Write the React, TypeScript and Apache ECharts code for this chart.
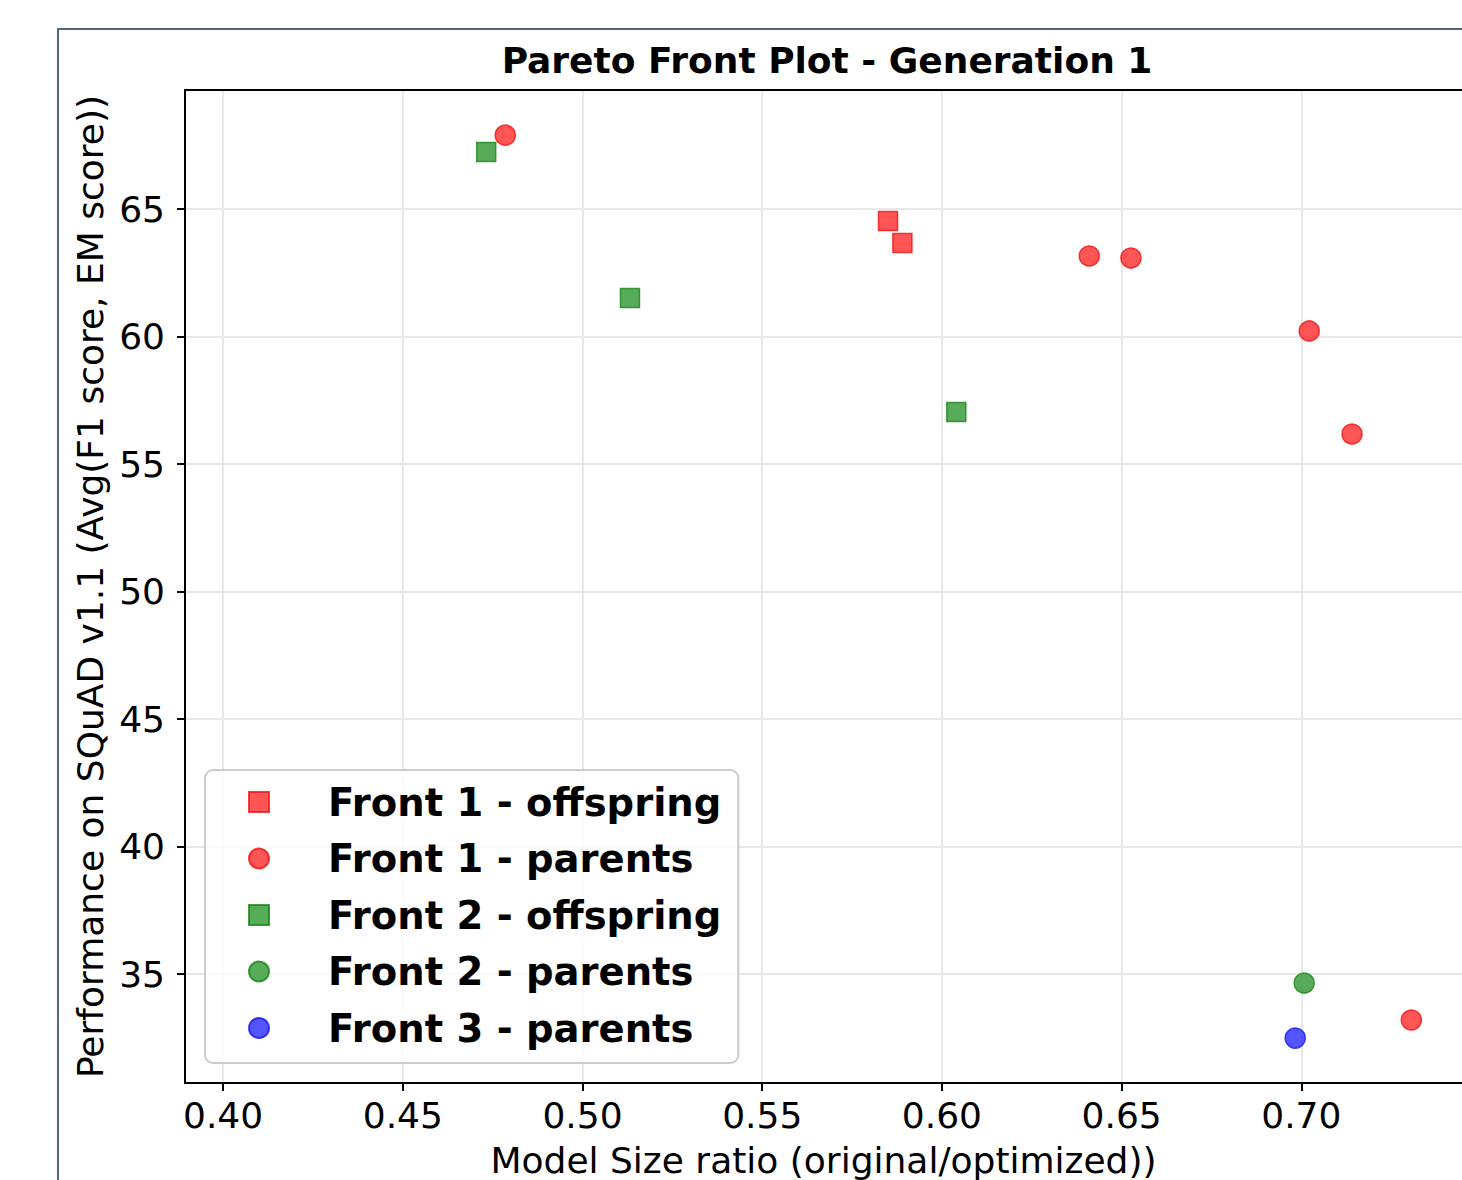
import React, { useEffect, useRef } from "react";
import * as echarts from "echarts";

const titleText = "Pareto Front Plot - Generation 1";
const xAxisName = "Model Size ratio (original/optimized))";
const yAxisName = "Performance on SQuAD v1.1 (Avg(F1 score, EM score))";

const xTicks = [0.4, 0.45, 0.5, 0.55, 0.6, 0.65, 0.7];
const yTicks = [35, 40, 45, 50, 55, 60, 65];

const front1Offspring: [number, number][] = [
  [0.585, 64.53],
  [0.589, 63.67],
];
const front1Parents: [number, number][] = [
  [0.4785, 67.9],
  [0.641, 63.16],
  [0.6526, 63.08],
  [0.7022, 60.22],
  [0.7141, 56.18],
  [0.7306, 33.2],
];
const front2Offspring: [number, number][] = [
  [0.4732, 67.24],
  [0.5132, 61.51],
  [0.604, 57.04],
];
const front2Parents: [number, number][] = [[0.7008, 34.65]];
const front3Parents: [number, number][] = [[0.6983, 32.49]];

const seriesNames = [
  "Front 1 - offspring",
  "Front 1 - parents",
  "Front 2 - offspring",
  "Front 2 - parents",
  "Front 3 - parents",
];

const FONT = "DejaVu Sans";
const X_MIN = 0.3894;
const X_MAX = 0.7447;

export default function App() {
  const ref = useRef<HTMLDivElement>(null);
  useEffect(() => {
    if (!ref.current) return;
    const chart = echarts.init(ref.current, null, { renderer: "svg" });
    const red = { color: "#ff2b2b", borderColor: "#ee1414", borderWidth: 1.5 };
    const green = { color: "#2e962e", borderColor: "#188518", borderWidth: 1.5 };
    const blue = { color: "#2b2bff", borderColor: "#1414ee", borderWidth: 1.5 };
    const mk = (name: string, data: [number, number][], symbol: string, size: number, style: any) => ({
      name,
      type: "scatter",
      data,
      symbol,
      symbolSize: size,
      itemStyle: style,
      emphasis: { disabled: true },
    });
    chart.setOption({
      animation: false,
      backgroundColor: "#ffffff",
      title: {
        text: titleText,
        left: 827,
        top: 42,
        textAlign: "center",
        padding: 0,
        textStyle: { fontFamily: FONT, fontSize: 36, fontWeight: "bold", color: "#000" },
      },
      graphic: [
        {
          type: "rect",
          shape: { x: 58, y: 29, width: 1500, height: 1300 },
          style: { fill: "none", stroke: "#56667f", lineWidth: 2 },
          silent: true,
        },
      ],
      grid: {
        left: 185,
        top: 90,
        right: 0,
        bottom: 97,
        show: false,
        containLabel: false,
        outerBoundsMode: "none",
      },
      legend: {
        orient: "vertical",
        left: 205,
        top: 770,
        padding: [12, 17, 15, 43],
        itemWidth: 20,
        itemHeight: 20,
        itemGap: 16.5,
        backgroundColor: "rgba(255,255,255,0.8)",
        borderColor: "#cccccc",
        borderWidth: 2,
        borderRadius: 8,
        data: seriesNames,
        textStyle: {
          fontFamily: FONT,
          fontSize: 38.5,
          fontWeight: "bold",
          color: "#000",
          lineHeight: 40,
          padding: [0, 0, 0, 54],
        },
      },
      xAxis: [
        {
          type: "value",
          min: X_MIN,
          max: X_MAX,
          splitNumber: 7,
          name: xAxisName,
          nameLocation: "middle",
          nameGap: 59,
          nameTextStyle: { fontFamily: FONT, fontSize: 36, color: "#000" },
          axisLine: { show: true, onZero: false, lineStyle: { color: "#000", width: 2 } },
          axisTick: { show: true, length: 8, lineStyle: { color: "#000", width: 2 }, customValues: xTicks },
          axisLabel: {
            fontFamily: FONT,
            fontSize: 36,
            color: "#000",
            margin: 14,
            customValues: xTicks,
            formatter: (v: number) => v.toFixed(2),
          },
          splitLine: { show: true, lineStyle: { color: "#e8e8e8", width: 2 } },
        },
        {
          type: "value",
          position: "top",
          min: X_MIN,
          max: X_MAX,
          axisLine: { show: true, onZero: false, lineStyle: { color: "#000", width: 2 } },
          axisTick: { show: false },
          axisLabel: { show: false },
          splitLine: { show: false },
        },
      ],
      yAxis: {
        type: "value",
        min: 30.73,
        max: 69.67,
        splitNumber: 8,
        name: yAxisName,
        nameLocation: "middle",
        nameGap: 71,
        nameTextStyle: { fontFamily: FONT, fontSize: 36, color: "#000" },
        axisLine: { show: true, onZero: false, lineStyle: { color: "#000", width: 2 } },
        axisTick: { show: true, length: 8, lineStyle: { color: "#000", width: 2 }, customValues: yTicks },
        axisLabel: {
          fontFamily: FONT,
          fontSize: 36,
          color: "#000",
          margin: 20,
          customValues: yTicks,
          formatter: (v: number) => String(v),
        },
        splitLine: { show: true, lineStyle: { color: "#e8e8e8", width: 2 } },
      },
      series: [
        mk(seriesNames[0], front1Offspring, "rect", 19, red),
        mk(seriesNames[1], front1Parents, "circle", 20, red),
        mk(seriesNames[2], front2Offspring, "rect", 19, green),
        mk(seriesNames[3], front2Parents, "circle", 20, green),
        mk(seriesNames[4], front3Parents, "circle", 20, blue),
      ],
    });
    return () => chart.dispose();
  }, []);
  return (
    <div
      ref={ref}
      style={{ position: "absolute", left: 0, top: 0, width: 1462, height: 1180, background: "#fff" }}
    />
  );
}
